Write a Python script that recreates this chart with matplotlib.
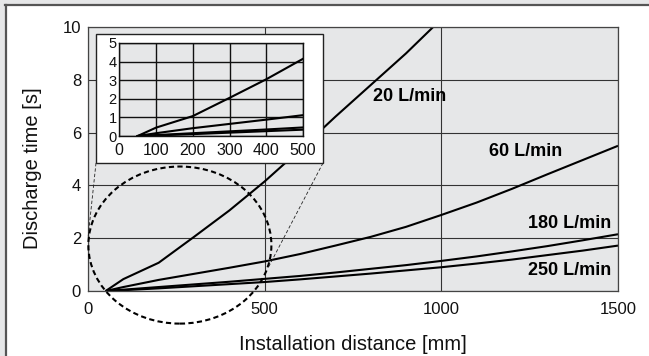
import matplotlib
matplotlib.use("Agg")
import matplotlib.pyplot as plt
from matplotlib.patches import Rectangle, Ellipse
from matplotlib.lines import Line2D

plt.rcParams['font.family'] = ['Liberation Sans', 'DejaVu Sans']

# ---- data ----
distance = [50, 100, 200, 300, 400, 500, 600, 700, 800, 900, 1000, 1100, 1200, 1300, 1400, 1500]
t_20 = [0, 0.45, 1.07, 2.05, 3.05, 4.15, 5.35, 6.6, 7.8, 9.0, 10.3]
t_60 = [0, 0.15, 0.42, 0.65, 0.88, 1.12, 1.4, 1.72, 2.05, 2.43, 2.88, 3.35, 3.87, 4.42, 4.96, 5.5]
t_180 = [0, 0.05, 0.15, 0.25, 0.35, 0.46, 0.57, 0.7, 0.84, 0.98, 1.14, 1.31, 1.5, 1.7, 1.92, 2.15]
t_250 = [0, 0.03, 0.1, 0.18, 0.26, 0.34, 0.44, 0.55, 0.66, 0.78, 0.9, 1.04, 1.19, 1.36, 1.53, 1.72]
series = [("20 L/min", t_20), ("60 L/min", t_60), ("180 L/min", t_180), ("250 L/min", t_250)]
main_xticks = [0, 500, 1000, 1500]
main_yticks = [0, 2, 4, 6, 8, 10]
inset_xticks = [0, 100, 200, 300, 400, 500]
inset_yticks = [0, 1, 2, 3, 4, 5]

W, H = 649, 356
fig = plt.figure(figsize=(W / 100, H / 100), dpi=100)
fig.patch.set_facecolor('#e6e7e8')

def fx(px):
    return px / W

def fy(py):
    return 1 - py / H

# white panel with dark top/left edge
fig.add_artist(Rectangle((fx(5), 0), 1, fy(5), transform=fig.transFigure,
                         facecolor='white', edgecolor='none', zorder=-5))
fig.add_artist(Line2D([fx(5), 1], [fy(4.5), fy(4.5)], transform=fig.transFigure,
                      color='#555555', lw=1.6, zorder=-4))
fig.add_artist(Line2D([fx(5.5), fx(5.5)], [0, fy(4.5)], transform=fig.transFigure,
                      color='#555555', lw=1.6, zorder=-4))

bg = '#e6e7e8'
ax = fig.add_axes([fx(88), fy(291), (618 - 88) / W, (291 - 27) / H])
ax.set_facecolor(bg)
ax.set_xlim(0, 1500)
ax.set_ylim(0, 10)
ax.set_xticks(main_xticks)
ax.set_yticks(main_yticks)
ax.grid(True, color='#333333', lw=0.8)
ax.set_axisbelow(True)
for s in ax.spines.values():
    s.set_color('#444444')
    s.set_linewidth(0.9)
ax.tick_params(length=0, labelsize=12, colors='#111111')
ax.tick_params(axis='x', pad=8)
ax.tick_params(axis='y', pad=5)
ax.set_xlabel('Installation distance [mm]', fontsize=14.5, color='#111111', va='center')
ax.xaxis.set_label_coords(0.5, (291 - 344) / 264)
ax.set_ylabel('Discharge time [s]', fontsize=14.5, color='#111111', va='center', ha='center')
ax.yaxis.set_label_coords((32.5 - 88) / 530, (291 - 168) / 264)

for name, vals in series:
    ax.plot(distance[:len(vals)], vals, color='black', lw=1.5, solid_capstyle='butt')

ax.text(806, 7.36, '20 L/min', fontsize=13, fontweight='bold', ha='left', va='center')
ax.text(1135, 5.28, '60 L/min', fontsize=13, fontweight='bold', ha='left', va='center')
ax.text(1481, 2.56, '180 L/min', fontsize=13, fontweight='bold', ha='right', va='center')
ax.text(1481, 0.77, '250 L/min', fontsize=13, fontweight='bold', ha='right', va='center')

ell = Ellipse((260, 1.74), 518, 5.95, fill=False, edgecolor='black', lw=1.5,
              linestyle=(0, (2.5, 1.6)), clip_on=False, zorder=5)
ax.add_patch(ell)

# inset panel
fig.add_artist(Rectangle((fx(96), fy(163)), (323 - 96) / W, (163 - 34) / H,
                         transform=fig.transFigure, facecolor='white',
                         edgecolor='#222222', lw=1.0, zorder=2))
fig.add_artist(Line2D([fx(96), fx(88)], [fy(163), fy(238)], transform=fig.transFigure,
                      color='#222222', lw=0.6, linestyle=(0, (4, 2.5)), zorder=2))
fig.add_artist(Line2D([fx(323), fx(268)], [fy(163), fy(268)], transform=fig.transFigure,
                      color='#222222', lw=0.6, linestyle=(0, (4, 2.5)), zorder=2))

ins = fig.add_axes([fx(119.3), fy(136), (303 - 119.3) / W, (136 - 43) / H], zorder=3)
ins.set_facecolor(bg)
ins.set_xlim(0, 500)
ins.set_ylim(0, 5)
ins.set_xticks(inset_xticks)
ins.set_yticks(inset_yticks)
ins.grid(True, color='#111111', lw=1.0)
ins.set_axisbelow(True)
for s in ins.spines.values():
    s.set_color('#111111')
    s.set_linewidth(1.0)
ins.tick_params(length=0, colors='#111111')
ins.tick_params(axis='x', labelsize=11.5, pad=5)
ins.tick_params(axis='y', labelsize=10.5, pad=2)
for name, vals in series:
    n = distance.index(500) + 1
    ins.plot(distance[:n], vals[:n], color='black', lw=1.5)

fig.savefig('out.png', dpi=100, facecolor=fig.get_facecolor())
